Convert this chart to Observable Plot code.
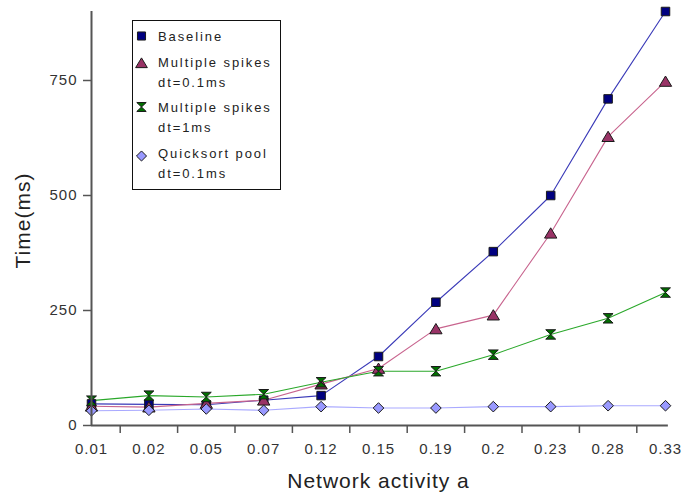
<!DOCTYPE html>
<html>
<head>
<meta charset="utf-8">
<script src="https://cdn.jsdelivr.net/npm/d3@7"></script>
<script src="https://cdn.jsdelivr.net/npm/@observablehq/plot@0.6"></script>
<style>
  html, body { margin: 0; padding: 0; background: #fff; }
  #wrap { position: relative; width: 686px; height: 498px; }
  #legend { position: absolute; left: 0; top: 0; }
</style>
</head>
<body>
<div id="wrap"></div>
<script>
// ---- data ----
const categories = ["0.01","0.02","0.05","0.07","0.12","0.15","0.19","0.2","0.23","0.28","0.33"];
const baseline   = [47, 46, 45, 55, 65, 150, 268, 378, 500, 710, 900];
const spikes01   = [42, 40, 48, 55, 90, 124, 210, 240, 418, 628, 748];
const spikes1    = [54, 65, 62, 68, 94, 118, 118, 154, 198, 233, 289];
const quicksort  = [32, 33, 36, 33, 41, 38, 38, 41, 41, 43, 43];
const yTicks = [0, 250, 500, 750];
const seriesNames = ["Baseline", "Multiple spikes\ndt=0.1ms", "Multiple spikes\ndt=1ms", "Quicksort pool\ndt=0.1ms"];

// ---- symbols ----
const symSquare = { draw(ctx, size) { const h = Math.sqrt(size) / 2; ctx.moveTo(-h, -h); ctx.lineTo(h, -h); ctx.lineTo(h, h); ctx.lineTo(-h, h); ctx.closePath(); } };
const symTriangle = { draw(ctx, size) { const h = Math.sqrt(size) / 2; ctx.moveTo(0, -h * 1.05); ctx.lineTo(h * 1.2, h * 0.95); ctx.lineTo(-h * 1.2, h * 0.95); ctx.closePath(); } };
const symHourglass = { draw(ctx, size) { const h = Math.sqrt(size) / 2; ctx.moveTo(-h, -h * 0.95); ctx.lineTo(h, -h * 0.95); ctx.lineTo(-h, h * 0.95); ctx.lineTo(h, h * 0.95); ctx.closePath(); } };
const symDiamond = { draw(ctx, size) { const h = Math.sqrt(size) / 2; ctx.moveTo(0, -h); ctx.lineTo(h, 0); ctx.lineTo(0, h); ctx.lineTo(-h, 0); ctx.closePath(); } };

const series = [
  { name: seriesNames[0], values: baseline,  line: "#3a3ab8", fill: "#000080", sym: symSquare,    r: 4.8 },
  { name: seriesNames[1], values: spikes01,  line: "#c8648e", fill: "#993366", sym: symTriangle,  r: 5.8 },
  { name: seriesNames[2], values: spikes1,   line: "#2aa82a", fill: "#007000", sym: symHourglass, r: 5.6 },
  { name: seriesNames[3], values: quicksort, line: "#a9a9ff", fill: "#9999ff", sym: symDiamond,   r: 6.0 }
];

const rows = series.map(s => s.values.map((v, i) => ({ i, cat: categories[i], v, s: s.name })));

const lineMarks = series.map((s, k) => Plot.line(rows[k], { x: "i", y: "v", stroke: s.line, strokeWidth: 1.1 }));
const dotMarks = series.map((s, k) => Plot.dot(rows[k], { x: "i", y: "v", symbol: s.sym, r: s.r, fill: s.fill, stroke: "#1a1a1a", strokeWidth: 1 }));

const chart = Plot.plot({
  width: 686,
  height: 498,
  marginLeft: 91,
  marginRight: 21,
  marginTop: 11,
  marginBottom: 73,
  x: { domain: [0, categories.length - 1] },
  y: { domain: [0, 900] },
  style: { fontFamily: "'Liberation Sans', Arial, sans-serif", background: "#fff", color: "#333", letterSpacing: "1px" },
  marks: [
    ...lineMarks,
    ...dotMarks,
    Plot.ruleX([0], { stroke: "#555", strokeWidth: 2 }),
    Plot.ruleY([0], { x1: 0, x2: categories.length - 1 + 0.05, stroke: "#555", strokeWidth: 2 }),
    Plot.axisY({ ticks: yTicks, tickSize: 8, tickPadding: 6, fontSize: 15, stroke: "#555", strokeWidth: 1.5, label: null, fill: "#333" }),
    Plot.axisX({ ticks: d3.range(0.5, categories.length - 1, 1), tickSize: 8, tickFormat: () => "", stroke: "#555", strokeWidth: 1.5, label: null }),
    Plot.axisX({ ticks: d3.range(categories.length), tickSize: 0, tickPadding: 18, tickFormat: i => categories[i], fontSize: 15, label: null, fill: "#333" }),
    Plot.text(["Network activity a"], { frameAnchor: "bottom", textAnchor: "middle", dy: 62, fontSize: 21, fill: "#222" }),
    Plot.text(["Time(ms)"], { frameAnchor: "left", textAnchor: "middle", lineAnchor: "middle", rotate: -90, dx: -68, dy: 2, fontSize: 21, fill: "#222" })
  ]
});

const wrap = document.getElementById("wrap");
wrap.appendChild(chart);

// ---- legend (overlay) ----
const leg = d3.select(wrap).append("svg").attr("id", "legend").attr("width", 686).attr("height", 498)
  .style("font-family", "'Liberation Sans', Arial, sans-serif");
leg.append("rect").attr("x", 132.5).attr("y", 20.5).attr("width", 148).attr("height", 169)
  .attr("fill", "#fff").attr("stroke", "#111").attr("stroke-width", 1);
const markerY = [36, 63, 107, 156];
const textY = [[41], [67, 87], [112, 132], [158, 178]];
series.forEach((s, k) => {
  const p = d3.path();
  s.sym.draw(p, Math.PI * s.r * s.r * 0.9);
  leg.append("path").attr("d", p.toString()).attr("transform", `translate(141.5,${markerY[k]})`)
    .attr("fill", s.fill).attr("stroke", "#1a1a1a").attr("stroke-width", 1);
  s.name.split("\n").forEach((t, j) => {
    leg.append("text").attr("x", 158).attr("y", textY[k][j]).attr("font-size", 13)
      .attr("letter-spacing", "1.9px").attr("fill", "#222").text(t);
  });
});
</script>
</body>
</html>
